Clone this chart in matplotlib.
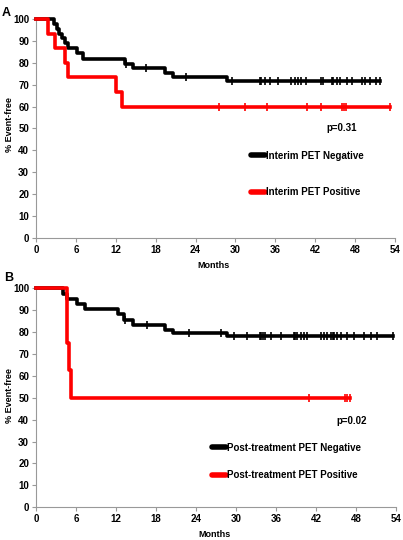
import numpy as np
import matplotlib.pyplot as plt

plt.rcParams['font.family'] = ['Liberation Sans', 'DejaVu Sans']
plt.rcParams['font.weight'] = 'bold'

# Panel A: interim PET (Kaplan-Meier steps: time in months, % event-free)
a_neg_t = [0, 2.7, 3.1, 3.5, 3.9, 4.3, 4.8, 6.1, 7.1, 13.4, 14.6, 19.4, 20.6, 28.7, 51.7]
a_neg_s = [100, 97.8, 95.6, 93.3, 91.1, 88.9, 86.7, 84.5, 81.5, 79.5, 77.5, 75.5, 73.5, 71.8, 71.8]
a_neg_cens = [13.6, 16.6, 22.6, 29.5, 33.7, 33.9, 34.4, 35.2, 36.4, 38.4, 38.9, 39.4, 39.9,
              40.6, 42.9, 43.2, 44.5, 44.7, 45.2, 45.7, 46.7, 47.5, 49.0, 49.5, 50.2, 51.2, 51.7]
a_pos_t = [0, 1.8, 2.9, 4.3, 4.8, 12.1, 13.0, 53.2]
a_pos_s = [100, 93.3, 86.7, 80.0, 73.3, 66.7, 60.0, 60.0]
a_pos_cens = [27.5, 31.5, 34.7, 40.7, 42.8, 46.0, 46.3, 46.6, 53.2]

# Panel B: post-treatment PET
b_neg_t = [0, 4.1, 4.6, 6.1, 7.3, 12.3, 13.2, 14.6, 19.4, 20.6, 28.7, 53.5]
b_neg_s = [100, 97.6, 95.2, 92.9, 90.5, 88.1, 85.7, 83.3, 81.0, 79.7, 78.0, 78.0]
b_neg_cens = [13.4, 16.6, 22.9, 27.7, 29.7, 31.7, 33.6, 33.8, 34.1, 34.4, 35.2, 36.7, 38.7,
              38.9, 39.2, 39.7, 40.2, 40.7, 42.7, 43.2, 43.7, 44.2, 44.5, 44.7, 45.2, 45.7,
              46.7, 47.7, 49.2, 50.2, 51.2, 53.5]
b_pos_t = [0, 4.7, 5.0, 5.3, 47.1]
b_pos_s = [100, 75.0, 62.5, 50.0, 50.0]
b_pos_cens = [40.9, 46.3, 46.6, 47.1]

x_ticks = np.arange(0, 55, 6)
y_ticks = np.arange(0, 101, 10)

RED = '#ff0000'


def surv_at(t_list, s_list, t):
    idx = np.searchsorted(t_list, t, side='right') - 1
    return s_list[idx]


def draw_panel(ax, curves, labels, p_text, p_pos, leg_anchor, leg_spacing, ylab_y):
    handles = []
    for (t, s, cens), color, lab in zip(curves, ['black', RED], labels):
        ax.step(t, s, where='post', color=color, lw=2.6, clip_on=False, zorder=3)
        cy = [surv_at(t, s, c) for c in cens]
        ax.plot(cens, cy, ls='none', marker='|', ms=5.5, mew=1.2, color=color,
                clip_on=False, zorder=4)
        h, = ax.plot([], [], color=color, lw=4, solid_capstyle='round', label=lab)
        handles.append(h)
    ax.set_xlim(0, 54)
    ax.set_ylim(0, 100)
    ax.set_xticks(x_ticks)
    ax.set_yticks(y_ticks)
    ax.tick_params(labelsize=7, length=3, color='#999999', pad=2)
    for sp in ['top', 'right']:
        ax.spines[sp].set_visible(False)
    for sp in ['left', 'bottom']:
        ax.spines[sp].set_color('#999999')
        ax.spines[sp].set_linewidth(0.8)
    ax.set_xlabel('Months', fontsize=6.5, fontweight='bold')
    ax.xaxis.set_label_coords(0.495, -0.105)
    ax.set_ylabel('% Event-free', fontsize=6.5, fontweight='bold')
    ax.yaxis.set_label_coords(-0.061, ylab_y)
    ax.text(p_pos[0], p_pos[1], p_text, transform=ax.transAxes, fontsize=7,
            fontweight='bold', ha='center', va='center')
    ax.legend(handles=handles, loc='center left', bbox_to_anchor=leg_anchor,
              frameon=False, handlelength=1.4, handletextpad=0.1,
              labelspacing=leg_spacing, borderaxespad=0, borderpad=0,
              prop={'weight': 'bold', 'size': 7})


fig = plt.figure(figsize=(4.03, 5.40), dpi=100)
ax_a = fig.add_axes([0.0893, 0.5593, 0.891, 0.4056])
ax_b = fig.add_axes([0.0893, 0.0606, 0.893, 0.4056])

draw_panel(ax_a, [(a_neg_t, a_neg_s, a_neg_cens), (a_pos_t, a_pos_s, a_pos_cens)],
           ['Interim PET Negative', 'Interim PET Positive'],
           'p=0.31', (0.852, 0.502), (0.60, 0.292), 2.7, 0.52)
draw_panel(ax_b, [(b_neg_t, b_neg_s, b_neg_cens), (b_pos_t, b_pos_s, b_pos_cens)],
           ['Post-treatment PET Negative', 'Post-treatment PET Positive'],
           'p=0.02', (0.878, 0.394), (0.489, 0.209), 1.8, 0.508)

fig.text(0.005, 0.987, 'A', fontsize=9, fontweight='bold', va='top')
fig.text(0.01, 0.497, 'B', fontsize=9, fontweight='bold', va='top')

fig.savefig('out.png', dpi=100)
